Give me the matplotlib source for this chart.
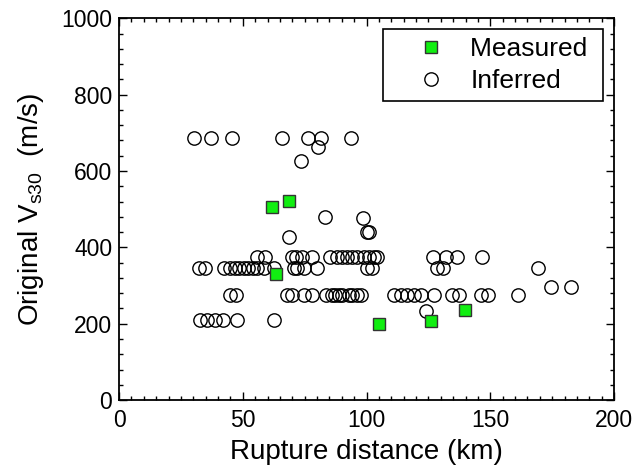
import matplotlib.pyplot as plt
from matplotlib.ticker import MultipleLocator

plt.rcParams['font.family'] = ['Liberation Sans', 'DejaVu Sans']

# stations with a measured Vs30
measured_dist = [61.8, 68.5, 63.2, 105.0, 126.2, 139.6]
measured_vs30 = [507, 522, 329, 198, 208, 236]

# stations with an inferred Vs30
inferred_dist = [
    30.4, 37.2, 45.7, 65.9, 76.4, 81.4, 93.9,
    80.4, 73.3, 83.1, 68.5, 98.5, 100.0, 101.0,
    55.7, 59.1, 69.9, 71.3, 74.0, 78.0, 85.4, 88.1, 90.2, 92.2, 94.2, 96.2,
    98.9, 100.9, 103.0, 104.3, 126.8, 132.0, 136.4, 146.8,
    32.1, 34.8, 42.5, 44.9, 46.9, 48.6, 50.6, 52.2, 54.3, 55.9, 58.4, 62.5,
    70.6, 71.9, 74.6, 80.0, 100.3, 102.3, 128.6, 131.0, 169.4,
    174.5, 182.6,
    45.0, 47.4, 67.9, 69.9, 74.6, 78.0, 83.4, 86.1, 87.4, 88.8, 90.2, 92.8,
    94.2, 96.2, 97.6, 111.0, 113.8, 116.5, 119.1, 121.9, 127.3, 134.7, 137.4,
    146.2, 148.9, 161.0,
    32.8, 35.5, 38.9, 42.1, 47.8, 62.5, 124.2,
]
inferred_vs30 = (
    [686] * 7
    + [662, 626, 480, 428, 478, 440, 440]
    + [376] * 20
    + [345] * 21
    + [297, 297]
    + [275] * 26
    + [211] * 6 + [234]
)

fig = plt.figure(figsize=(6.37, 4.69), dpi=100)
ax = fig.add_axes([0.187, 0.147, 0.777, 0.814])

ax.plot(measured_dist, measured_vs30, 's', color='#11ee11', markeredgecolor='#333333',
        markeredgewidth=1.0, markersize=8.5, label='Measured ', zorder=3)
ax.plot(inferred_dist, inferred_vs30, 'o', markerfacecolor='none', markeredgecolor='black',
        markeredgewidth=1.0, markersize=9.6, label='Inferred', zorder=2)

ax.set_xlim(0, 200)
ax.set_ylim(0, 1000)
ax.xaxis.set_major_locator(MultipleLocator(50))
ax.xaxis.set_minor_locator(MultipleLocator(5))
ax.yaxis.set_major_locator(MultipleLocator(200))
ax.yaxis.set_minor_locator(MultipleLocator(40))
ax.tick_params(which='both', direction='in', top=True, right=True, width=1.0)
ax.tick_params(which='major', length=6, labelsize=16.5, pad=5)
ax.tick_params(axis='x', which='major', pad=6.5)
ax.tick_params(which='minor', length=3)
for s in ax.spines.values():
    s.set_linewidth(1.3)

ax.set_xlabel('Rupture distance (km)', fontsize=20, labelpad=5)
ax.set_ylabel('Original V$_{\\mathregular{s30}}$  (m/s)', fontsize=20, labelpad=11)

leg = ax.legend(loc='upper right', fontsize=19, frameon=True, fancybox=False,
                edgecolor='black', framealpha=1, borderpad=0.3, handletextpad=0.0,
                handlelength=3.0, labelspacing=0.3, borderaxespad=0.42)
leg.get_frame().set_linewidth(1.2)

plt.savefig('out.png', dpi=100)
